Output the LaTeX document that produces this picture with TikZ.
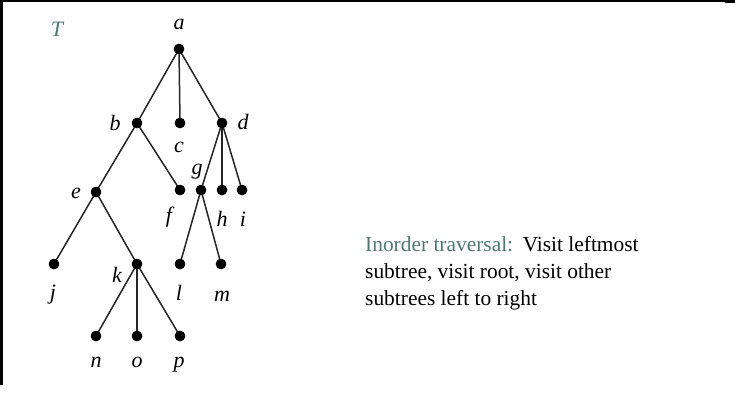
\documentclass[tikz,border=0pt]{standalone}
\usepackage{fontspec}
\setmainfont{Liberation Serif}
\definecolor{tealgray}{RGB}{80,122,112}
\begin{document}
\begin{tikzpicture}[x=1pt,y=-1pt,
  dot/.style={circle,fill=black,inner sep=0pt,minimum size=10.5pt},
  edge/.style={line width=1.5pt,draw=black!85},
  lbl/.style={inner sep=0pt,font=\fontsize{22}{26}\selectfont\itshape},
  txt/.style={inner sep=0pt,anchor=base west,font=\fontsize{21.4}{27}\selectfont}]
\useasboundingbox (0,0) rectangle (735,416);
\fill[white] (0,0) rectangle (735,416);
% frame remnants
\fill[black] (0,0) rectangle (735,1.6);
\fill[black] (0,0) rectangle (2.5,385);
\fill[black] (725,0) rectangle (735,2.5);
% vertices
\node[dot] (a) at (179,49) {};
\node[dot] (b) at (137,123) {};
\node[dot] (c) at (180,123) {};
\node[dot] (d) at (222,123) {};
\node[dot] (e) at (96,192) {};
\node[dot] (f) at (180,190) {};
\node[dot] (g) at (201,190) {};
\node[dot] (h) at (222,190) {};
\node[dot] (i) at (242,190) {};
\node[dot] (j) at (54,264) {};
\node[dot] (k) at (137,264) {};
\node[dot] (l) at (180,264) {};
\node[dot] (m) at (221,264) {};
\node[dot] (n) at (96,336) {};
\node[dot] (o) at (137,336) {};
\node[dot] (p) at (180,336) {};
% edges
\draw[edge] (a.center) -- (b.center);
\draw[edge] (a.center) -- (c.center);
\draw[edge] (a.center) -- (d.center);
\draw[edge] (b.center) -- (e.center);
\draw[edge] (b.center) -- (f.center);
\draw[edge] (d.center) -- (g.center);
\draw[edge] (d.center) -- (h.center);
\draw[edge] (d.center) -- (i.center);
\draw[edge] (e.center) -- (j.center);
\draw[edge] (e.center) -- (k.center);
\draw[edge] (g.center) -- (l.center);
\draw[edge] (g.center) -- (m.center);
\draw[edge] (k.center) -- (n.center);
\draw[edge] (k.center) -- (o.center);
\draw[edge] (k.center) -- (p.center);
% redraw dots on top
\foreach \v in {a,b,c,d,e,f,g,h,i,j,k,l,m,n,o,p}
  \fill[black] (\v.center) circle (5.2pt);
% labels
\node[lbl,text=tealgray] (lT) at (57,29) {T};
\node[lbl] (la) at (179,24) {a};
\node[lbl] (lb) at (115,123) {b};
\node[lbl] (lc) at (179,147) {c};
\node[lbl] (ld) at (243,122) {d};
\node[lbl] (le) at (76,193) {e};
\node[lbl] (lg) at (197,172) {g};
\node[lbl] (lf) at (169,217) {f};
\node[lbl] (lh) at (222,219) {h};
\node[lbl] (li) at (243,219) {i};
\node[lbl] (lj) at (53,295) {j};
\node[lbl] (lk) at (117,275) {k};
\node[lbl] (ll) at (179,293) {l};
\node[lbl] (lm) at (222,296) {m};
\node[lbl] (ln) at (96,362) {n};
\node[lbl] (lo) at (137,362) {o};
\node[lbl] (lp) at (179,365) {p};
% description
\node[txt] (t1) at (365,251) {\textcolor{tealgray}{Inorder traversal:}\hspace{0.45em}Visit leftmost};
\node[txt] (t2) at (365,278) {subtree, visit root, visit other};
\node[txt] (t3) at (365,305) {subtrees left to right};
\end{tikzpicture}
\end{document}
